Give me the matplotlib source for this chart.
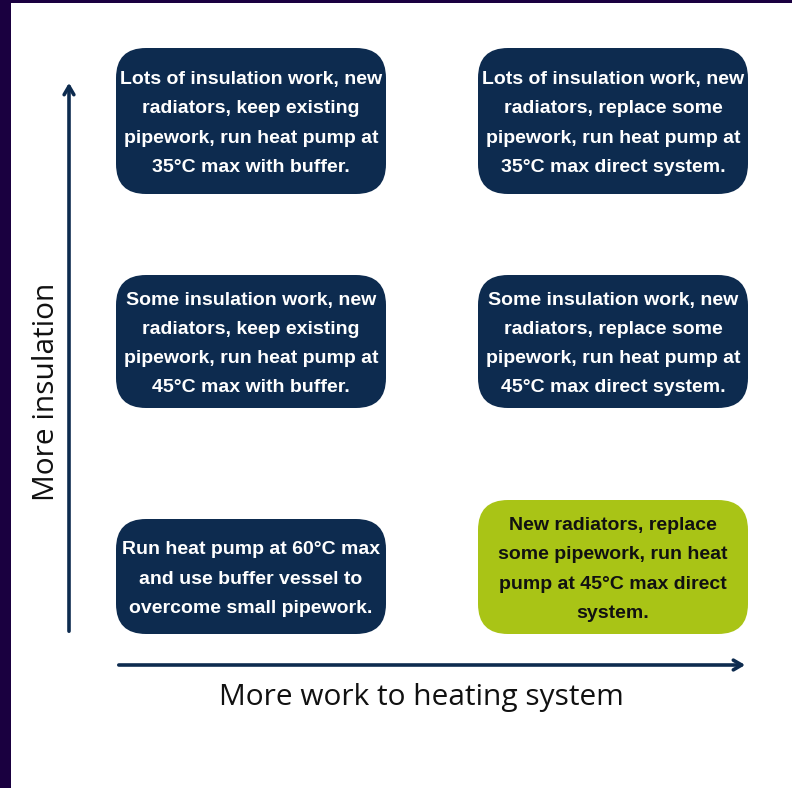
import matplotlib
matplotlib.use("Agg")
import matplotlib.pyplot as plt
from matplotlib.patches import FancyBboxPatch, Rectangle

# ── Content ──────────────────────────────────────────────────────────────────
box_texts = [
    "Lots of insulation work, new\nradiators, keep existing\npipework, run heat pump at\n35°C max with buffer.",
    "Lots of insulation work, new\nradiators, replace some\npipework, run heat pump at\n35°C max direct system.",
    "Some insulation work, new\nradiators, keep existing\npipework, run heat pump at\n45°C max with buffer.",
    "Some insulation work, new\nradiators, replace some\npipework, run heat pump at\n45°C max direct system.",
    "Run heat pump at 60°C max\nand use buffer vessel to\novercome small pipework.",
    "New radiators, replace\nsome pipework, run heat\npump at 45°C max direct\nsystem.",
]
box_col = [0, 1, 0, 1, 0, 1]
box_row = [0, 0, 1, 1, 2, 2]
highlight = [False, False, False, False, False, True]
x_label = "More work to heating system"
y_label = "More insulation"

# ── Layout (pixels) ──────────────────────────────────────────────────────────
W, H = 792, 788
COL_X = [116, 478]
BOX_W = 270
ROW_Y = [(48, 194), (275, 408), (519, 634)]
ROW_Y_HL = (500, 634)

NAVY = "#0d2b4f"
LIME = "#a9c416"
PURPLE = "#1a0040"

fig = plt.figure(figsize=(W / 100, H / 100), dpi=100)
ax = fig.add_axes([0, 0, 1, 1])
ax.set_xlim(0, W)
ax.set_ylim(H, 0)
ax.axis("off")
fig.patch.set_facecolor("white")

# purple frame (left and top edges)
ax.add_patch(Rectangle((0, 0), 11, H, color=PURPLE, lw=0))
ax.add_patch(Rectangle((0, 0), W, 3, color=PURPLE, lw=0))

for text, c, r, hl in zip(box_texts, box_col, box_row, highlight):
    y0, y1 = ROW_Y_HL if hl else ROW_Y[r]
    x0 = COL_X[c]
    ax.add_patch(FancyBboxPatch((x0, y0), BOX_W, y1 - y0,
                                boxstyle="round,pad=0,rounding_size=30",
                                fc=LIME if hl else NAVY, ec="none"))
    ax.text(x0 + BOX_W / 2, (y0 + y1) / 2 + 2.5, text,
            ha="center", va="center", fontsize=14, fontweight="bold",
            family=["Liberation Sans", "DejaVu Sans"], linespacing=1.93,
            color="#111111" if hl else "white")

# axes arrows
arrow = dict(arrowstyle="->,head_length=0.6,head_width=0.35",
             color=NAVY, lw=2.6)
ax.annotate("", xy=(69, 80), xytext=(69, 634), arrowprops=arrow)
ax.annotate("", xy=(748, 665), xytext=(116, 665), arrowprops=arrow)

ax.text(421, 697, x_label, ha="center", va="center", fontsize=21.5,
        family="Open Sans", color="#111111")
ax.text(47, 392, y_label, ha="center", va="center", fontsize=21.5,
        family="Open Sans", color="#111111", rotation=90)

fig.savefig("out.png", dpi=100, facecolor="white")
